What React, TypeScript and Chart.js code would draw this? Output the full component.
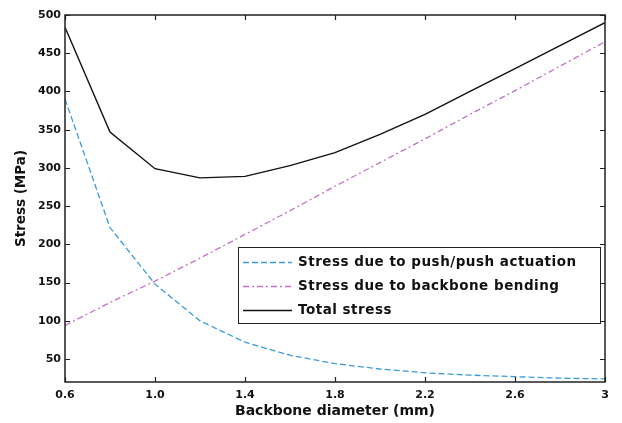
import React, { useEffect, useRef } from "react";
import { Chart, registerables } from "chart.js";

Chart.register(...registerables);

const diameters = [0.6, 0.8, 1.0, 1.2, 1.4, 1.6, 1.8, 2.0, 2.2, 2.4, 2.6, 2.8, 3.0];
const actuationStress = [390, 222, 148, 100, 72, 55, 44, 37, 32, 29, 27, 25, 24];
const bendingStress = [94, 124, 152, 182, 213, 244, 276, 307, 338, 370, 401, 433, 465];
const totalStress = [484, 347, 299, 287, 289, 303, 320, 344, 370, 400, 430, 460, 490];

const xTickValues = [0.6, 1.0, 1.4, 1.8, 2.2, 2.6, 3.0];
const xTickLabels = ["0.6", "1.0", "1.4", "1.8", "2.2", "2.6", "3"];
const yTickValues = [50, 100, 150, 200, 250, 300, 350, 400, 450, 500];

const seriesNames = [
  "Stress due to push/push actuation",
  "Stress due to backbone bending",
  "Total stress",
];

const FONT = "'DejaVu Sans', sans-serif";

const framePlugin = {
  id: "frame",
  afterDatasetsDraw(chart: any) {
    const { ctx, chartArea } = chart;
    const { left, right, top, bottom } = chartArea;
    const xs = chart.scales.x;
    const ys = chart.scales.y;
    ctx.save();
    ctx.strokeStyle = "#222";
    ctx.lineWidth = 1.5;
    ctx.setLineDash([]);
    ctx.strokeRect(left, top, right - left, bottom - top);
    ctx.lineWidth = 1.2;
    const tl = 5;
    ctx.beginPath();
    for (const v of xTickValues) {
      const px = Math.round(xs.getPixelForValue(v)) + 0.5;
      ctx.moveTo(px, bottom);
      ctx.lineTo(px, bottom - tl);
      ctx.moveTo(px, top);
      ctx.lineTo(px, top + tl);
    }
    for (const v of yTickValues) {
      const py = Math.round(ys.getPixelForValue(v)) + 0.5;
      ctx.moveTo(left, py);
      ctx.lineTo(left + tl, py);
      ctx.moveTo(right, py);
      ctx.lineTo(right - tl, py);
    }
    ctx.stroke();

    // legend box
    const bx = 238, by = 247, bw = 362, bh = 76;
    ctx.fillStyle = "#fff";
    ctx.fillRect(bx, by, bw, bh);
    ctx.strokeStyle = "#222";
    ctx.lineWidth = 1;
    ctx.strokeRect(bx + 0.5, by + 0.5, bw, bh);
    const rows = [262, 286, 310];
    chart.data.datasets.forEach((ds: any, i: number) => {
      const y = rows[i] + 0.5;
      ctx.strokeStyle = ds.borderColor;
      ctx.lineWidth = ds.borderWidth;
      ctx.setLineDash(ds.borderDash || []);
      ctx.beginPath();
      ctx.moveTo(243, y);
      ctx.lineTo(292, y);
      ctx.stroke();
      ctx.setLineDash([]);
      ctx.fillStyle = "#111";
      ctx.font = `bold 13.5px ${FONT}`;
      (ctx as any).letterSpacing = "0.5px";
      ctx.textBaseline = "middle";
      ctx.textAlign = "left";
      ctx.fillText(ds.label, 298, rows[i]);
    });
    ctx.restore();
  },
};

export default function App() {
  const ref = useRef<HTMLCanvasElement>(null);
  useEffect(() => {
    document.body.style.margin = "0";
    const canvas = ref.current!;
    const chart = new Chart(canvas, {
      type: "line",
      data: {
        datasets: [
          {
            label: seriesNames[0],
            data: diameters.map((d, i) => ({ x: d, y: actuationStress[i] })),
            borderColor: "#3d9bd8",
            borderWidth: 1.3,
            borderDash: [6, 3],
            pointRadius: 0,
            tension: 0,
          },
          {
            label: seriesNames[1],
            data: diameters.map((d, i) => ({ x: d, y: bendingStress[i] })),
            borderColor: "#c272c8",
            borderWidth: 1.3,
            borderDash: [6, 3, 2, 3],
            pointRadius: 0,
            tension: 0,
          },
          {
            label: seriesNames[2],
            data: diameters.map((d, i) => ({ x: d, y: totalStress[i] })),
            borderColor: "#111",
            borderWidth: 1.4,
            pointRadius: 0,
            tension: 0,
          },
        ],
      },
      options: {
        animation: false,
        responsive: false,
        layout: { padding: { left: 0, right: 17, top: 15, bottom: 0 } },
        plugins: { legend: { display: false }, tooltip: { enabled: false } },
        scales: {
          x: {
            type: "linear",
            min: 0.6,
            max: 3.0,
            grid: { display: false, drawTicks: false, tickLength: 0 },
            border: { display: false },
            afterBuildTicks: (s: any) => {
              s.ticks = xTickValues.map((v) => ({ value: v }));
            },
            afterFit: (s: any) => {
              s.height = 41;
            },
            ticks: {
              autoSkip: false,
              maxRotation: 0,
              padding: 7,
              color: "#111",
              font: { family: FONT, size: 11, weight: "bold" },
              callback: (_v: any, i: number) => xTickLabels[i],
            },
            title: {
              display: true,
              text: "Backbone diameter (mm)",
              color: "#111",
              font: { family: FONT, size: 14, weight: "bold" },
              padding: { top: 0, bottom: 3.6 },
            },
          },
          y: {
            type: "linear",
            min: 20,
            max: 500,
            grid: { display: false, drawTicks: false, tickLength: 0 },
            border: { display: false },
            afterBuildTicks: (s: any) => {
              s.ticks = yTickValues.map((v) => ({ value: v }));
            },
            afterFit: (s: any) => {
              s.width = 65;
            },
            ticks: {
              autoSkip: false,
              padding: 4,
              color: "#111",
              font: { family: FONT, size: 11, weight: "bold" },
            },
            title: {
              display: true,
              text: "Stress (MPa)",
              color: "#111",
              font: { family: FONT, size: 13.5, weight: "bold" },
              padding: { top: 13, bottom: 0 },
            },
          },
        },
      },
      plugins: [framePlugin],
    } as any);
    return () => chart.destroy();
  }, []);
  return <canvas ref={ref} width={622} height={423} style={{ display: "block" }} />;
}
